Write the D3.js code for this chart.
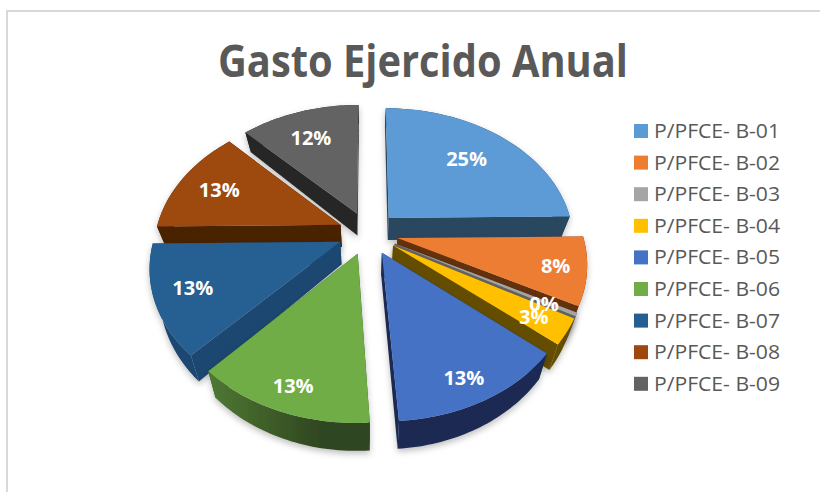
<!DOCTYPE html>
<html>
<head>
<meta charset="utf-8">
<script src="https://cdn.jsdelivr.net/npm/d3@7"></script>
<style>
  html, body { margin: 0; background: #fff; }
  svg { display: block; }
  text { font-family: "Open Sans", "Noto Sans", sans-serif; }
</style>
</head>
<body>
<div id="plot"></div>
<script>
const CANVAS_WIDTH  = 820;
const CANVAS_HEIGHT = 492;

// pie geometry, fake 3D: a disc on the ground seen through a perspective
const CENTER_X  = 368;
const CENTER_Y  = 233;
const RADIUS    = 185;
const EXPLODE   = 30;
const FOCAL     = 1100;
const TILT      = 0.718;
const THICKNESS = 22.5;
const CONVERGE  = 0.955;   // lower edge of the walls pulls toward the middle

const LEGEND_X = 634;
const LEGEND_Y = 131;
const LEGEND_STEP = 31.6;

const TITLE = "Gasto Ejercido Anual";
const categories = ["P/PFCE- B-01", "P/PFCE- B-02", "P/PFCE- B-03", "P/PFCE- B-04", "P/PFCE- B-05",
                    "P/PFCE- B-06", "P/PFCE- B-07", "P/PFCE- B-08", "P/PFCE- B-09"];
const values     = [25, 8, 0.4, 3, 13, 13, 13, 13, 12.4];
const labels     = ["25%", "8%", "0%", "3%", "13%", "13%", "13%", "13%", "12%"];
const topColors  = ["#5b9bd5", "#ed7d31", "#a5a5a5", "#ffc000", "#4472c4", "#70ad47", "#255e91", "#9e480e", "#636363"];
const sideColors = ["#2a4660", "#63300f", "#636363", "#654d00", "#1a2c52", "#2f4620", "#1e476f", "#4a2005", "#262626"];
const labelRadii = [0.7, 0.84, 0.86, 0.84, 0.87, 0.86, 0.79, 0.74, 0.72];
const labelShift = [0, 3, -2, 0, -3, 4, 0, 0, 0];

// 0 = behind the pie, clockwise in radians
function project(angle, r, slice) {
    var mid = (slice.startAngle + slice.endAngle) / 2;
    var gx = r * Math.sin(angle) + EXPLODE * Math.sin(mid);
    var gz = r * Math.cos(angle) + EXPLODE * Math.cos(mid);
    var s = FOCAL / (FOCAL + gz);
    return [CENTER_X + gx * s, CENTER_Y - TILT * gz * s, s];
}

function drop(p) {
    return [CENTER_X + (p[0] - CENTER_X) * CONVERGE, p[1] + THICKNESS * p[2]];
}

var svg = d3.select("#plot")
            .append("svg")
            .attr("width", CANVAS_WIDTH)
            .attr("height", CANVAS_HEIGHT);

var defs = svg.append("defs");
var shadow = defs.append("filter")
                 .attr("id", "shadow")
                 .attr("x", "-20%").attr("y", "-20%")
                 .attr("width", "140%").attr("height", "140%");
shadow.append("feDropShadow")
      .attr("dx", 0).attr("dy", 3)
      .attr("stdDeviation", 3)
      .attr("flood-color", "#000")
      .attr("flood-opacity", 0.25);

var greenRim = defs.append("linearGradient").attr("id", "green-rim");
greenRim.append("stop").attr("offset", "0%").attr("stop-color", "#4f7833");
greenRim.append("stop").attr("offset", "70%").attr("stop-color", "#2f4620");

// chart frame
svg.append("path")
   .attr("d", "M7,492V11H820")
   .attr("fill", "none")
   .attr("stroke", "#d9d9d9")
   .attr("stroke-width", 2);

svg.append("text")
   .attr("x", 423)
   .attr("y", 77)
   .attr("text-anchor", "middle")
   .attr("textLength", 410)
   .attr("lengthAdjust", "spacingAndGlyphs")
   .attr("font-size", 44)
   .attr("font-weight", 700)
   .attr("fill", "#595959")
   .text(TITLE);

var slices = d3.pie().sort(null).value(d => d)(values);
slices.forEach((d, i) => { d.i = i; });

var line = d3.line().x(p => p[0]).y(p => p[1]);

// far slices first
var order = slices.slice().sort((a, b) =>
    Math.cos((b.startAngle + b.endAngle) / 2) - Math.cos((a.startAngle + a.endAngle) / 2));

order.forEach(function(d) {
    var g = svg.append("g").attr("filter", "url(#shadow)");
    var side = d.i == 5 ? "url(#green-rim)" : sideColors[d.i];
    var angles = d3.range(0, 41).map(k => d.startAngle + (d.endAngle - d.startAngle) * k / 40);
    var rim = angles.map(a => project(a, RADIUS, d));
    var tip = project(0, 0, d);

    // two radial walls
    [rim[0], rim[rim.length - 1]].forEach(function(p) {
        g.append("path")
         .attr("d", line([tip, p, drop(p), drop(tip)]) + "Z")
         .attr("fill", sideColors[d.i]);
    });

    // outer wall
    g.append("path")
     .attr("d", line(rim.concat(rim.slice().reverse().map(drop))) + "Z")
     .attr("fill", side);

    // top face
    g.append("path")
     .attr("d", line([tip].concat(rim)) + "Z")
     .attr("fill", topColors[d.i]);
});

// data labels
slices.forEach(function(d, i) {
    var mid = (d.startAngle + d.endAngle) / 2;
    var p = project(mid, RADIUS * labelRadii[i], d);
    svg.append("text")
       .attr("x", p[0] - 3 + labelShift[i])
       .attr("y", p[1] + 7)
       .attr("text-anchor", "middle")
       .attr("font-size", 20)
       .attr("font-weight", 700)
       .attr("fill", "#fff")
       .text(labels[i]);
});

// legend
var legend = svg.selectAll(".legend")
                .data(categories)
                .enter()
                .append("g")
                .attr("class", "legend")
                .attr("transform", (d, i) => "translate(" + LEGEND_X + "," + (LEGEND_Y + i * LEGEND_STEP) + ")");
legend.append("rect")
      .attr("x", 0).attr("y", -7)
      .attr("width", 14).attr("height", 14)
      .attr("fill", (d, i) => topColors[i]);
legend.append("text")
      .attr("x", 20)
      .attr("y", 7)
      .attr("font-size", 20)
      .attr("textLength", 126)
      .attr("lengthAdjust", "spacingAndGlyphs")
      .attr("fill", "#595959")
      .text(d => d);
</script>
</body>
</html>
